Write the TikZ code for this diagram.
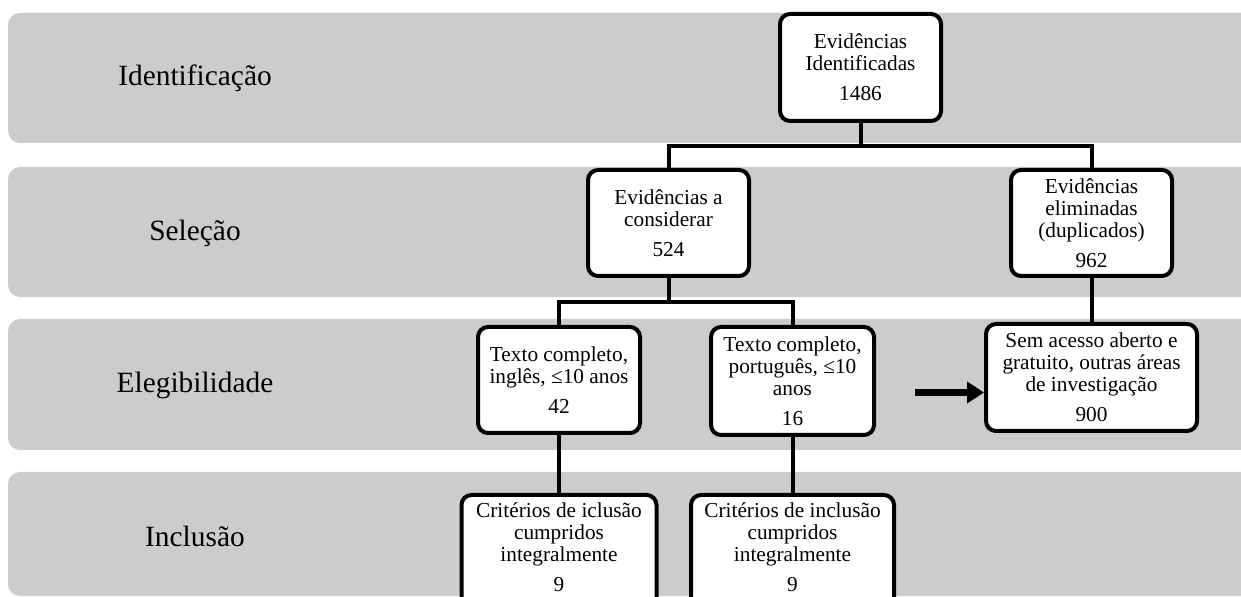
\documentclass[tikz,border=0pt]{standalone}
\usepackage{fontspec}
\setmainfont{Liberation Serif}
\usetikzlibrary{arrows.meta}
\definecolor{bandgray}{RGB}{204,204,204}
\tikzset{
  band/.style={fill=bandgray, draw=none, rounded corners=6pt},
  stagelabel/.style={anchor=base, inner sep=0pt, font=\fontsize{14.7}{17}\selectfont},
  flowbox/.style={draw=black, fill=white, line width=2pt, rounded corners=5pt,
    align=center, inner sep=0pt, font=\fontsize{10.65}{11}\selectfont},
  conn/.style={draw=black, line width=2pt},
  bigarrow/.style={draw=black, line width=3.5pt, -{Triangle[length=8.5pt,width=10.5pt]}}
}
\begin{document}
\begin{tikzpicture}[x=0.5pt,y=-0.5pt]
\useasboundingbox (0,0) rectangle (1241,597);
\clip (0,0) rectangle (1241,597);
% bands
\path[band] (8,13) rectangle (1270,143);
\path[band] (8,167) rectangle (1270,297);
\path[band] (8,319) rectangle (1270,450);
\path[band] (8,472) rectangle (1270,596);
% stage labels
\node[stagelabel] (l1) at (195,86) {Identificação};
\node[stagelabel] (l2) at (195,241) {Seleção};
\node[stagelabel] (l3) at (195,393) {Elegibilidade};
\node[stagelabel] (l4) at (195,547) {Inclusão};
% boxes
\node[flowbox, minimum width=80.5pt, minimum height=53.5pt] (A) at (860.5,67.5)
  {Evidências\\Identificadas\\[4pt]1486};
\node[flowbox, minimum width=80.5pt, minimum height=53pt] (B) at (668.5,223)
  {Evidências a\\considerar\\[4pt]524};
\node[flowbox, minimum width=80.5pt, minimum height=53pt] (C) at (1091.5,223)
  {Evidências\\eliminadas\\(duplicados)\\[4pt]962};
\node[flowbox, minimum width=81pt, minimum height=53pt] (D) at (559,380)
  {Texto completo,\\inglês, ≤10 anos\\[4pt]42};
\node[flowbox, minimum width=81.5pt, minimum height=54pt] (E) at (792.5,381)
  {Texto completo,\\português, ≤10\\anos\\[4pt]16};
\node[flowbox, minimum width=105.5pt, minimum height=53.5pt] (F) at (1091.5,377.5)
  {Sem acesso aberto e\\gratuito, outras áreas\\de investigação\\[4pt]900};
\node[flowbox, minimum width=97.5pt, minimum height=65pt] (G) at (559,560)
  {Critérios de iclusão\\cumpridos\\integralmente\\[4pt]9\\[2pt]\mbox{}};
\node[flowbox, minimum width=101.5pt, minimum height=65pt] (H) at (792.5,560)
  {Critérios de inclusão\\cumpridos\\integralmente\\[4pt]9\\[2pt]\mbox{}};
% connectors
\coordinate (j1) at (860.5,146);
\coordinate (j2) at (668.5,302);
\coordinate (arrowstart) at (915,392.5);
\draw[conn] (A.south) -- (j1) -| (B.north);
\draw[conn] (j1) -| (C.north);
\draw[conn] (B.south) -- (j2) -| (D.north);
\draw[conn] (j2) -| (E.north);
\draw[conn] (C.south) -- (C.south |- F.north);
\draw[conn] (D.south) -- (D.south |- G.north);
\draw[conn] (E.south) -- (E.south |- H.north);
\draw[bigarrow] (arrowstart) -- (arrowstart -| F.west);
\end{tikzpicture}
\end{document}
